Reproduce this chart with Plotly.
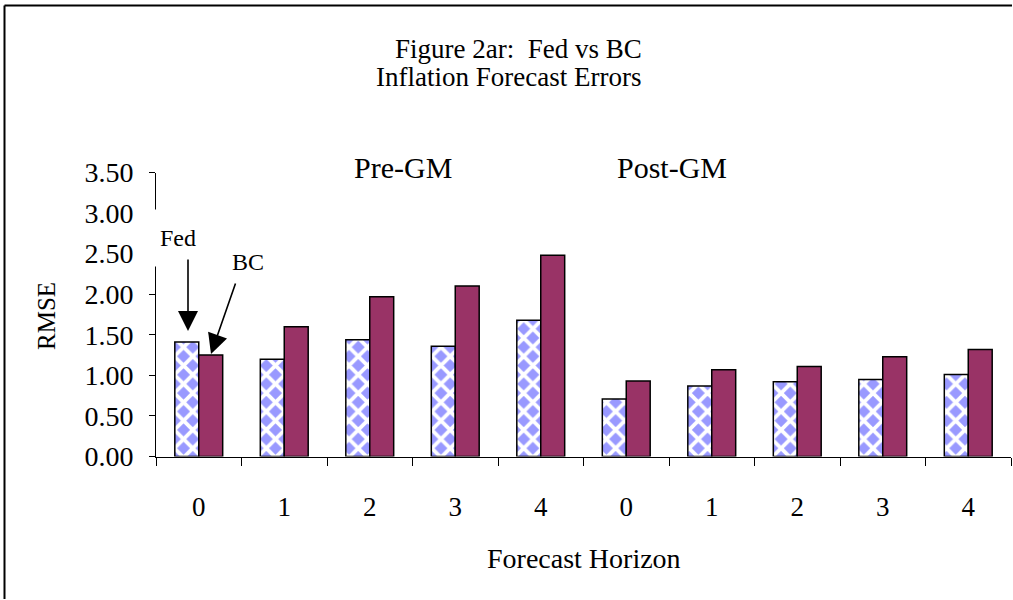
import plotly.graph_objects as go

# Forecast horizons (quarters ahead) for the two sample periods
periods = ["Pre-GM", "Post-GM"]
horizons = ["0", "1", "2", "3", "4"]
categories = [f"{p} {h}" for p in periods for h in horizons]
horizon_labels = horizons + horizons

# RMSE of inflation forecasts
fed_rmse = [1.41, 1.20, 1.44, 1.36, 1.68, 0.71, 0.87, 0.92, 0.95, 1.01]
bc_rmse = [1.25, 1.60, 1.97, 2.10, 2.48, 0.93, 1.07, 1.11, 1.23, 1.32]

W, H = 1013, 600
FONT = "Liberation Serif, Times New Roman, serif"


def px(x):
    return x / W


def py(y):
    return 1 - y / H


fig = go.Figure()
fig.add_trace(go.Bar(
    x=categories, y=fed_rmse, name="Fed",
    marker=dict(
        color="white",
        line=dict(color="black", width=1.5),
        pattern=dict(shape="x", bgcolor="#9999FF", fgcolor="white",
                     size=13, solidity=0.5, fillmode="replace"),
    ),
))
fig.add_trace(go.Bar(
    x=categories, y=bc_rmse, name="BC",
    marker=dict(color="#993366", line=dict(color="black", width=1.5)),
))

fig.update_layout(
    width=W, height=H,
    margin=dict(l=0, r=0, t=0, b=0, autoexpand=False),
    paper_bgcolor="white", plot_bgcolor="white",
    showlegend=False,
    barmode="group", bargap=0.44, bargroupgap=0,
    font=dict(family=FONT, color="black", size=27),
    xaxis=dict(
        type="category", domain=[px(156), px(1011)], automargin=False,
        tickvals=categories, ticktext=horizon_labels,
        tickson="boundaries", ticks="outside", ticklen=8,
        tickcolor="black", showline=True, linecolor="black", linewidth=1,
        showgrid=False, ticklabelstandoff=26,
        tickfont=dict(family=FONT, size=27),
    ),
    yaxis=dict(
        domain=[py(456.5), py(172.5)], range=[0, 3.5], dtick=0.5,
        automargin=False,
        tickformat=".2f", ticks="outside", ticklen=6, tickcolor="black",
        showline=True, linecolor="black", linewidth=1, showgrid=False,
        zeroline=False, ticklabelstandoff=10,
        tickfont=dict(family=FONT, size=28),
    ),
)

annotations = [
    dict(text="Figure 2ar:  Fed vs BC", x=px(518), y=py(49), size=27),
    dict(text="Inflation Forecast Errors", x=px(508), y=py(77), size=27),
    dict(text="Pre-GM", x=px(403), y=py(167), size=30),
    dict(text="Post-GM", x=px(672), y=py(167), size=30),
    dict(text="Forecast Horizon", x=px(584), y=py(558), size=28),
    dict(text="BC", x=px(248), y=py(262), size=24),
]
for a in annotations:
    fig.add_annotation(
        text=a["text"], x=a["x"], y=a["y"], xref="paper", yref="paper",
        xanchor="center", yanchor="middle", showarrow=False,
        font=dict(family=FONT, size=a["size"], color="black"),
    )

# y-axis title
fig.add_annotation(
    text="RMSE", x=px(47), y=py(316), xref="paper", yref="paper",
    xanchor="center", yanchor="middle", showarrow=False, textangle=-90,
    font=dict(family=FONT, size=25, color="black"),
)

# "Fed" label sits in a white box that masks part of the y-axis line
fig.add_annotation(
    text="Fed", x=px(178), y=py(238), xref="paper", yref="paper",
    xanchor="center", yanchor="middle", showarrow=False,
    width=62, height=56, bgcolor="white", borderpad=0,
    font=dict(family=FONT, size=24, color="black"),
)

# pointer arrows for the two series
for tip, tail in [((188, 331), (188, 258)), ((211, 354), (236, 282))]:
    fig.add_annotation(
        text="", x=px(tip[0]), y=py(tip[1]), xref="paper", yref="paper",
        ax=tail[0] - tip[0], ay=tail[1] - tip[1], axref="pixel", ayref="pixel",
        showarrow=True, arrowhead=2, arrowsize=2.5, arrowwidth=1.6,
        arrowcolor="black",
    )

# outer chart frame: left and top edges (the rest runs past the page)
fig.add_shape(type="line", xref="paper", yref="paper",
              x0=px(4.5), x1=px(4.5), y0=py(599), y1=py(5.5),
              line=dict(color="black", width=2))
fig.add_shape(type="line", xref="paper", yref="paper",
              x0=px(4.5), x1=px(1012), y0=py(5.5), y1=py(5.5),
              line=dict(color="black", width=2))

fig.write_html("out.html", config={"displayModeBar": False})
